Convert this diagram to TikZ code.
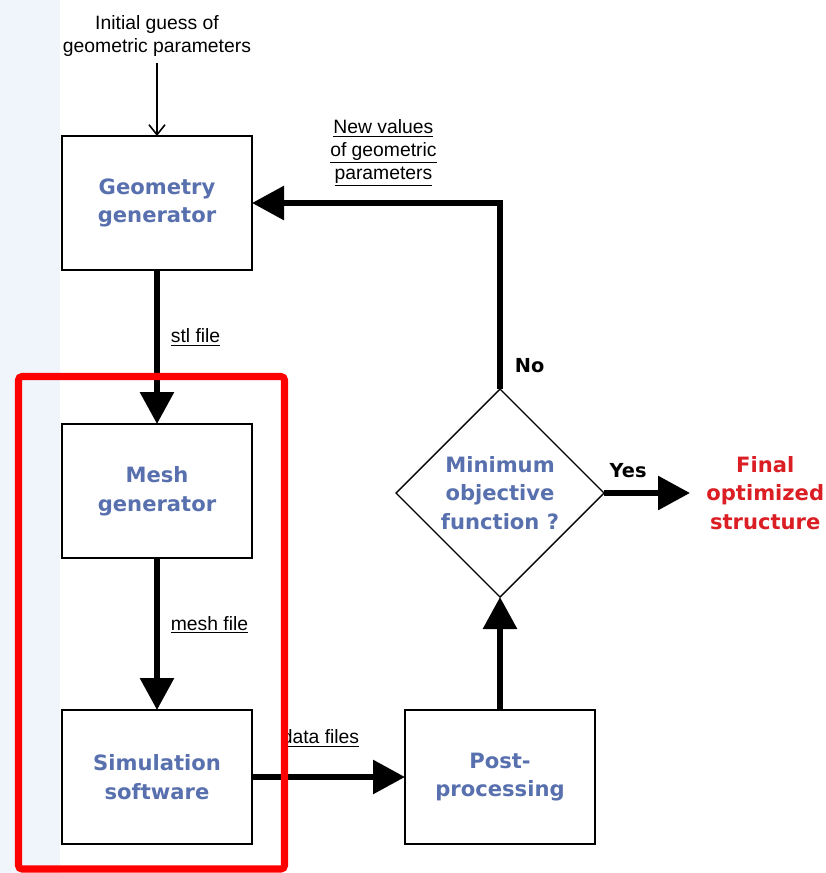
\documentclass[tikz,border=0pt]{standalone}
\usepackage{fontspec}
\setmainfont{Liberation Sans}
\newfontfamily\boxfont{DejaVu Sans}
\usetikzlibrary{shapes.geometric,arrows.meta,positioning,calc}
\definecolor{boxBlue}{RGB}{88,112,174}
\definecolor{finalRed}{RGB}{218,30,36}
\definecolor{frameRed}{RGB}{255,0,0}
\definecolor{softBack}{RGB}{240,245,251}

\begin{document}
\begin{tikzpicture}[>=Stealth,
    box/.style={draw, rectangle, line width=1.1pt, fill=white, minimum width=3.8cm, minimum height=2.68cm, outer sep=0pt, align=center, text=boxBlue, font=\boxfont\bfseries\fontsize{12}{16.4}\selectfont},
    flow/.style={-{Triangle[length=6.4mm,width=6.6mm]}, line width=3.4pt},
    lbl/.style={align=center, font=\fontsize{11}{13}\selectfont},
    answer/.style={font=\boxfont\bfseries\fontsize{11}{13}\selectfont}]
    \useasboundingbox (0,0) rectangle (16.5,-17.46);
    \fill[softBack] (0,0) rectangle (1.2,-17.46);

    \node[box] (geom) at (3.14,-4.06) {Geometry\\generator};
    \node[box, below=3.08cm of geom] (mesh) {Mesh\\generator};
    \node[box, below=3.04cm of mesh] (sim) {Simulation\\software};
    \node[box, right=3.06cm of sim] (post) {Post-\\processing};
    \node[draw, diamond, aspect=1, line width=0.8pt, fill=white, minimum size=4.16cm, inner sep=0pt, outer sep=0pt, align=center, text=boxBlue, font=\boxfont\bfseries\fontsize{12}{16.4}\selectfont, above=2.26cm of post] (dia) 
      {Minimum\\objective\\function ?};
    \node[right=1.72cm of dia, inner xsep=0.32cm, align=center, text=finalRed, font=\boxfont\bfseries\fontsize{12}{16.4}\selectfont] (final) 
      {Final\\optimized\\structure};
    \node[lbl, above=1.46cm of geom] (init) {Initial guess of\\geometric parameters};

    \draw[-{Straight Barb[length=2mm,width=3.2mm]}, line width=0.9pt] (init) -- (geom);
    \draw[flow] (geom) -- node[lbl, right, xshift=0.1cm, pos=0.44] {\underline{stl file}} (mesh);
    \draw[flow] (mesh) -- node[lbl, right, xshift=0.1cm, pos=0.44] {\underline{mesh file}} (sim);
    \draw[flow] (sim) -- node[lbl, above, yshift=0.42cm, xshift=-0.16cm] {\underline{data files}} (post);
    \draw[flow] (post) -- (dia);
    \draw[flow] (dia) -- node[answer, above, pos=0.28, yshift=0.12cm] {Yes} (final);
    \draw[flow] (dia.north) |- node[answer, right, xshift=0.12cm, pos=0.062] {No}
      node[lbl, above, yshift=0.15cm, pos=0.735] {\underline{New values}\\\underline{of geometric}\\\underline{parameters}} (geom.east);

    % highlighted part of the loop
    \draw[frameRed, line width=4pt, rounded corners=2pt] ([xshift=-0.87cm, yshift=0.95cm]mesh.north west) rectangle ([xshift=0.65cm, yshift=-0.5cm]sim.south east);
  \end{tikzpicture}
\end{document}
